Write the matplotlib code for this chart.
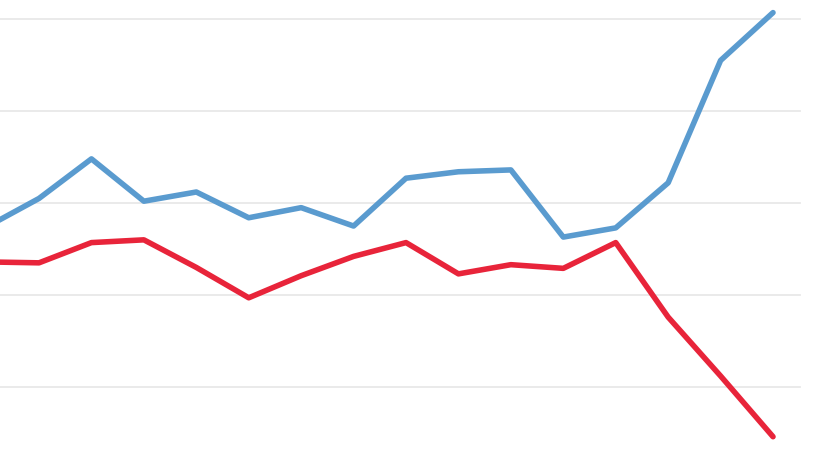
import matplotlib
matplotlib.use("Agg")
from matplotlib import pyplot as plt

# values (gridlines at 0, 10, 20, 30, 40)
periods = list(range(16))
blue_series = [17.4, 20.5, 24.8, 20.2, 21.2, 18.4, 19.5, 17.5,
               22.7, 23.4, 23.6, 16.3, 17.3, 22.2, 35.5, 40.7]
red_series = [13.6, 13.5, 15.7, 16.0, 13.0, 9.7, 12.1, 14.2,
              15.7, 12.3, 13.3, 12.9, 15.7, 7.6, 1.2, -5.4]
grid_values = [0, 10, 20, 30, 40]

fig = plt.figure(figsize=(8.2, 4.61), dpi=100)
ax = fig.add_axes([0, 0, 1, 1])

for g in grid_values:
    ax.axhline(g, xmin=0, xmax=800 / 820, color="#e8e8e8", linewidth=1.3, zorder=1)

ax.plot(periods, blue_series, color="#5a9bcf", linewidth=4.0,
        solid_capstyle="round", solid_joinstyle="round", zorder=3)
ax.plot(periods, red_series, color="#e8243a", linewidth=4.0,
        solid_capstyle="round", solid_joinstyle="round", zorder=3)

ax.set_xlim(0.256, 15.896)
ax.set_ylim(-8.04, 42.07)
ax.axis("off")

fig.savefig("out.png", dpi=100, facecolor="white")
